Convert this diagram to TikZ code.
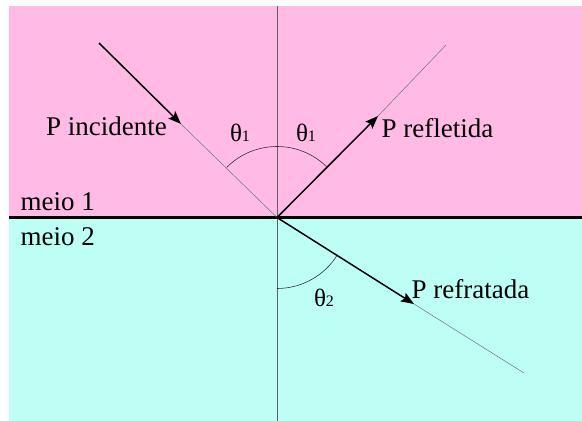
\documentclass[tikz,border=0pt]{standalone}
\usepackage{fontspec}
\setmainfont{Liberation Serif}
\usetikzlibrary{arrows.meta}
\definecolor{pinkmed}{RGB}{255,187,229}
\definecolor{cyanmed}{RGB}{189,255,245}
\definecolor{axisgray}{RGB}{95,95,95}
\newcommand{\thlab}[1]{{\fontsize{25}{25}\selectfont θ\fontsize{16}{16}\selectfont #1}}
\tikzset{
  lbl/.style={inner sep=0pt, anchor=base west, font=\fontsize{27}{27}\selectfont},
  thl/.style={inner sep=0pt},
  ray/.style={line width=1.5pt, -{Stealth[length=13pt,width=10pt,inset=2.5pt]}},
  tail/.style={line width=0.5pt, draw=black!55},
  arcl/.style={line width=0.6pt, draw=black!80}
}
\begin{document}
\begin{tikzpicture}[x=1pt,y=-1pt]
\useasboundingbox (0,0) rectangle (582,421);
\fill[pinkmed] (9,6) rectangle (582,217.5);
\fill[cyanmed] (9,217.5) rectangle (582,421);
\coordinate (O) at (277,217.5);
\coordinate (top) at (277,6);
\coordinate (bot) at (277,421);
\coordinate (iL) at (9,217.5);
\coordinate (iR) at (582,217.5);
\coordinate (inS) at (99,43);
\coordinate (inT) at (181,124);
\coordinate (reT) at (378,116);
\coordinate (reE) at (446,45);
\coordinate (rfT) at (414,304);
\coordinate (rfE) at (524,373);
% normal
\draw[line width=0.8pt, axisgray] (top) -- (bot);
% interface
\draw[line width=2.2pt, black] (iL) -- (iR);
% rays
\draw[tail] (inT) -- (O);
\draw[ray] (inS) -- (inT);
\draw[tail] (reT) -- (reE);
\draw[ray] (O) -- (reT);
\draw[tail] (rfT) -- (rfE);
\draw[ray] (O) -- (rfT);
% arcs (y axis points down: angles are mirrored)
\draw[arcl] (O) ++(-45:71) arc[start angle=-45, end angle=-135, radius=71];
\draw[arcl] (O) ++(90:71) arc[start angle=90, end angle=32, radius=71];
% labels
\node[lbl, anchor=base east] (pinc) at (167,135) {P incidente};
\node[lbl] (pref) at (381.5,137.5) {P refletida};
\node[lbl] (prfr) at (411.5,298.5) {P refratada};
\node[lbl] (m1) at (20.5,210) {meio 1};
\node[lbl] (m2) at (20.5,245) {meio 2};
\node[thl] (t1a) at (240,133) {\thlab{1}};
\node[thl] (t1b) at (306,133) {\thlab{1}};
\node[thl] (t2) at (324,298) {\thlab{2}};
\end{tikzpicture}
\end{document}
